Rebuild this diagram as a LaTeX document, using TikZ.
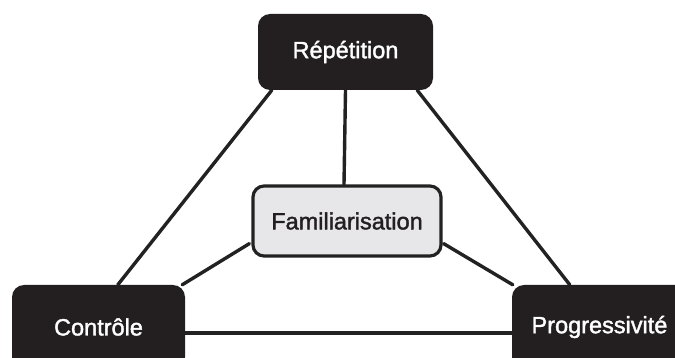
\documentclass[tikz,border=0pt]{standalone}
\usepackage{fontspec}
\setmainfont{Liberation Sans}
\newfontfamily\medfont[FakeBold=1.6]{Liberation Sans}
\usetikzlibrary{calc,backgrounds}
\definecolor{boxdark}{HTML}{231F20}
\definecolor{famfill}{HTML}{E7E7E9}
\definecolor{linecol}{HTML}{222222}
\tikzset{
  darkbox/.style={rectangle, rounded corners=12pt, fill=boxdark, text=white, inner sep=0pt,
    font=\medfont\fontsize{23.5}{27}\selectfont},
  lightbox/.style={rectangle, rounded corners=11pt, fill=famfill, draw=linecol, line width=3.2pt,
    text=boxdark, inner sep=0pt, font=\medfont\fontsize{23.5}{27}\selectfont},
  link/.style={draw=linecol, line width=3.4pt, line cap=round}
}
\begin{document}
\begin{tikzpicture}[x=1pt,y=-1pt]
\useasboundingbox (0,0) rectangle (675,358);
\clip (0,0) rectangle (675,358);
\node[darkbox, minimum width=175pt, minimum height=76pt] (rep) at (345.5,52) {Répétition};
\node[lightbox, minimum width=188pt, minimum height=70pt] (fam) at (347,221) {Familiarisation};
\node[darkbox, minimum width=173pt, minimum height=84pt] (con) at (98.5,327) {Contrôle};
\node[darkbox, minimum width=175pt, minimum height=84pt] (pro) at (599.5,327) {Progressivité};
\begin{pgfonlayer}{background}
\draw[link] ($(rep.south west)+(14,0)$) -- ($(con.north west)+(106,0)$);
\draw[link] ($(rep.south)+(0,0)$) -- ($(fam.north)+(-3,0)$);
\draw[link] ($(rep.south east)+(-16,0)$) -- ($(pro.north west)+(58,0)$);
\draw[link] ($(fam.south west)+(-2,-14)$) -- ($(con.north east)+(-3,0)$);
\draw[link] ($(fam.south east)+(1,-14)$) -- ($(pro.north west)+(1,0)$);
\draw[link] ($(con.east)+(0,6)$) -- ($(pro.west)+(0,6)$);
\end{pgfonlayer}
\end{tikzpicture}
\end{document}
